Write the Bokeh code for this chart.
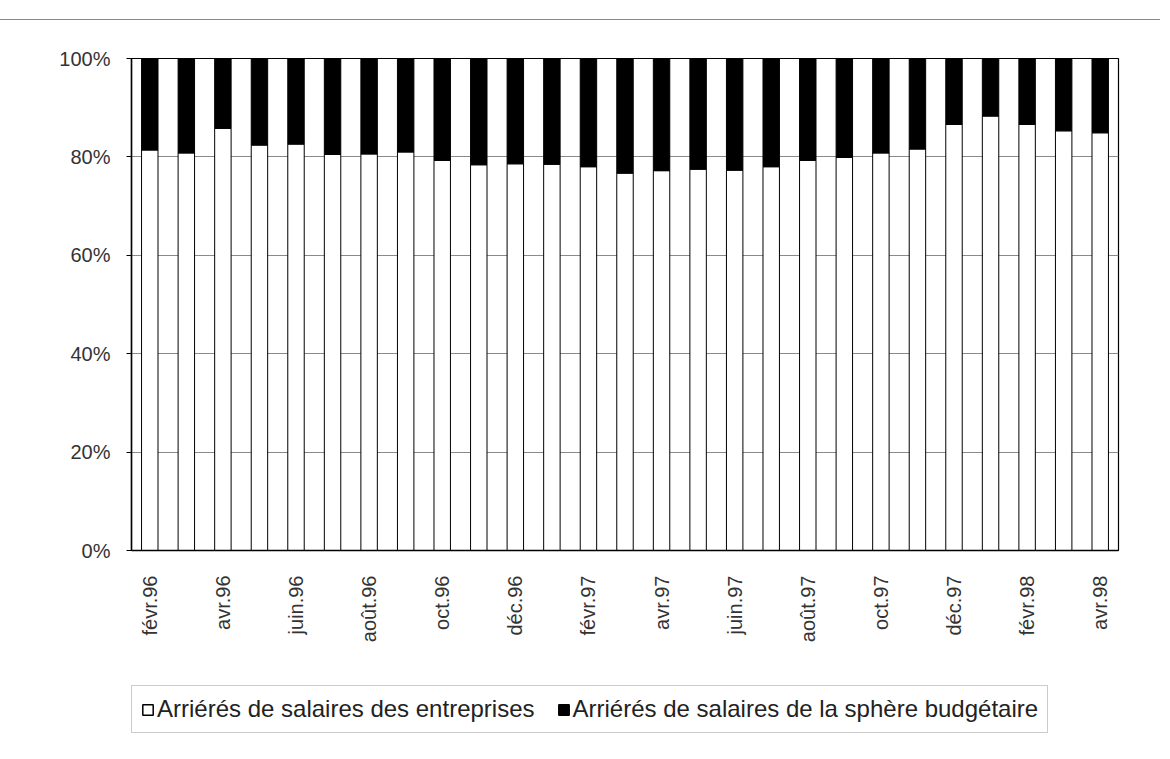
import math
from bokeh.plotting import figure
from bokeh.layouts import column
from bokeh.models import FixedTicker, NumeralTickFormatter, Legend, LegendItem, ColumnDataSource, Div
from bokeh.embed import file_html
from bokeh.resources import INLINE

months = ["févr.96", "mars.96", "avr.96", "mai.96", "juin.96", "juil.96", "août.96", "sept.96",
          "oct.96", "nov.96", "déc.96", "janv.97", "févr.97", "mars.97", "avr.97", "mai.97",
          "juin.97", "juil.97", "août.97", "sept.97", "oct.97", "nov.97", "déc.97", "janv.98",
          "févr.98", "mars.98", "avr.98"]
entreprises = [81.4, 80.8, 85.8, 82.4, 82.6, 80.5, 80.6, 81.0, 79.3, 78.4, 78.6, 78.5, 78.0, 76.7,
               77.2, 77.5, 77.3, 78.0, 79.3, 79.9, 80.8, 81.6, 86.6, 88.3, 86.6, 85.3, 84.9]
budgetaire = [round(100 - v, 1) for v in entreprises]
series_names = ["Arriérés de salaires des entreprises", "Arriérés de salaires de la sphère budgétaire"]
tick_labels = months[::2]

idx = list(range(len(months)))
src = ColumnDataSource(dict(x=idx, ent=[v / 100 for v in entreprises], bud=[v / 100 for v in budgetaire]))

W = 1160
top_line = Div(text="", width=W, height=20, margin=0,
               styles={"border-bottom": "1.5px solid #888", "box-sizing": "border-box"})

p = figure(width=W, height=660, output_backend="svg", toolbar_location=None,
           x_range=(-0.5, len(months) - 0.5), y_range=(0, 1),
           min_border_left=131, min_border_right=42, min_border_top=38, min_border_bottom=130)

r = p.vbar_stack(["ent", "bud"], x="x", width=0.45, source=src,
                 color=["white", "black"], line_color="black", line_width=1)

p.outline_line_color = "black"
p.outline_line_width = 1.2
p.background_fill_color = "white"
p.border_fill_color = "white"

p.xgrid.visible = False
p.ygrid.grid_line_color = "#8a8a8a"
p.ygrid.grid_line_width = 1.2
p.ygrid.ticker = FixedTicker(ticks=[0.2, 0.4, 0.6, 0.8, 1.0])

p.yaxis.ticker = FixedTicker(ticks=[0, 0.2, 0.4, 0.6, 0.8, 1.0])
p.yaxis.formatter = NumeralTickFormatter(format="0%")
p.yaxis.axis_line_color = "black"
p.yaxis.axis_line_width = 1.5
p.yaxis.major_tick_out = 5
p.yaxis.major_tick_in = 0
p.yaxis.minor_tick_line_color = None
p.yaxis.major_label_text_font = "Liberation Sans"
p.yaxis.major_label_text_font_size = "20px"
p.yaxis.major_label_text_color = "#333333"
p.yaxis.major_label_standoff = 16

p.xaxis.ticker = FixedTicker(ticks=idx[::2])
p.xaxis.major_label_overrides = {i: months[i] for i in idx[::2]}
p.xaxis.major_label_orientation = math.pi / 2
p.xaxis.axis_line_color = "black"
p.xaxis.axis_line_width = 1.5
p.xaxis.major_tick_line_color = None
p.xaxis.minor_tick_line_color = None
p.xaxis.major_label_text_font = "Liberation Sans"
p.xaxis.major_label_text_font_size = "20px"
p.xaxis.major_label_text_color = "#333333"
p.xaxis.major_label_standoff = 19

# legend strip (key glyphs are tiny and hidden behind the opaque legend box)
lg = figure(width=W, height=75, output_backend="svg", toolbar_location=None,
            x_range=(0, 1), y_range=(0, 1), x_axis_location=None, y_axis_location=None,
            min_border_left=0, min_border_right=0, min_border_top=0, min_border_bottom=0)
lg.outline_line_color = None
lg.grid.visible = False
lg.border_fill_color = "white"
key_src = ColumnDataSource(dict(x=[0.3], top=[0.55], bottom=[0.45]))
g1 = lg.vbar(x="x", top="top", bottom="bottom", width=0.005, source=key_src,
             fill_color="white", line_color="black", line_width=1.5)
g2 = lg.vbar(x="x", top="top", bottom="bottom", width=0.005, source=key_src,
             fill_color="black", line_color="black", line_width=1.5)
legend = Legend(items=[LegendItem(label=series_names[0], renderers=[g1]),
                       LegendItem(label=series_names[1], renderers=[g2])],
                orientation="horizontal", location=(0, 22),
                label_text_font="Liberation Sans", label_text_font_size="24px",
                label_text_color="#222222", glyph_width=13, glyph_height=13,
                label_standoff=3, spacing=22, padding=9, margin=0,
                border_line_color="#999999", border_line_width=1,
                background_fill_color="white", background_fill_alpha=1)
lg.add_layout(legend, "center")

layout = column(top_line, p, lg, spacing=0)
open("out.html", "w").write(file_html(layout, INLINE))
